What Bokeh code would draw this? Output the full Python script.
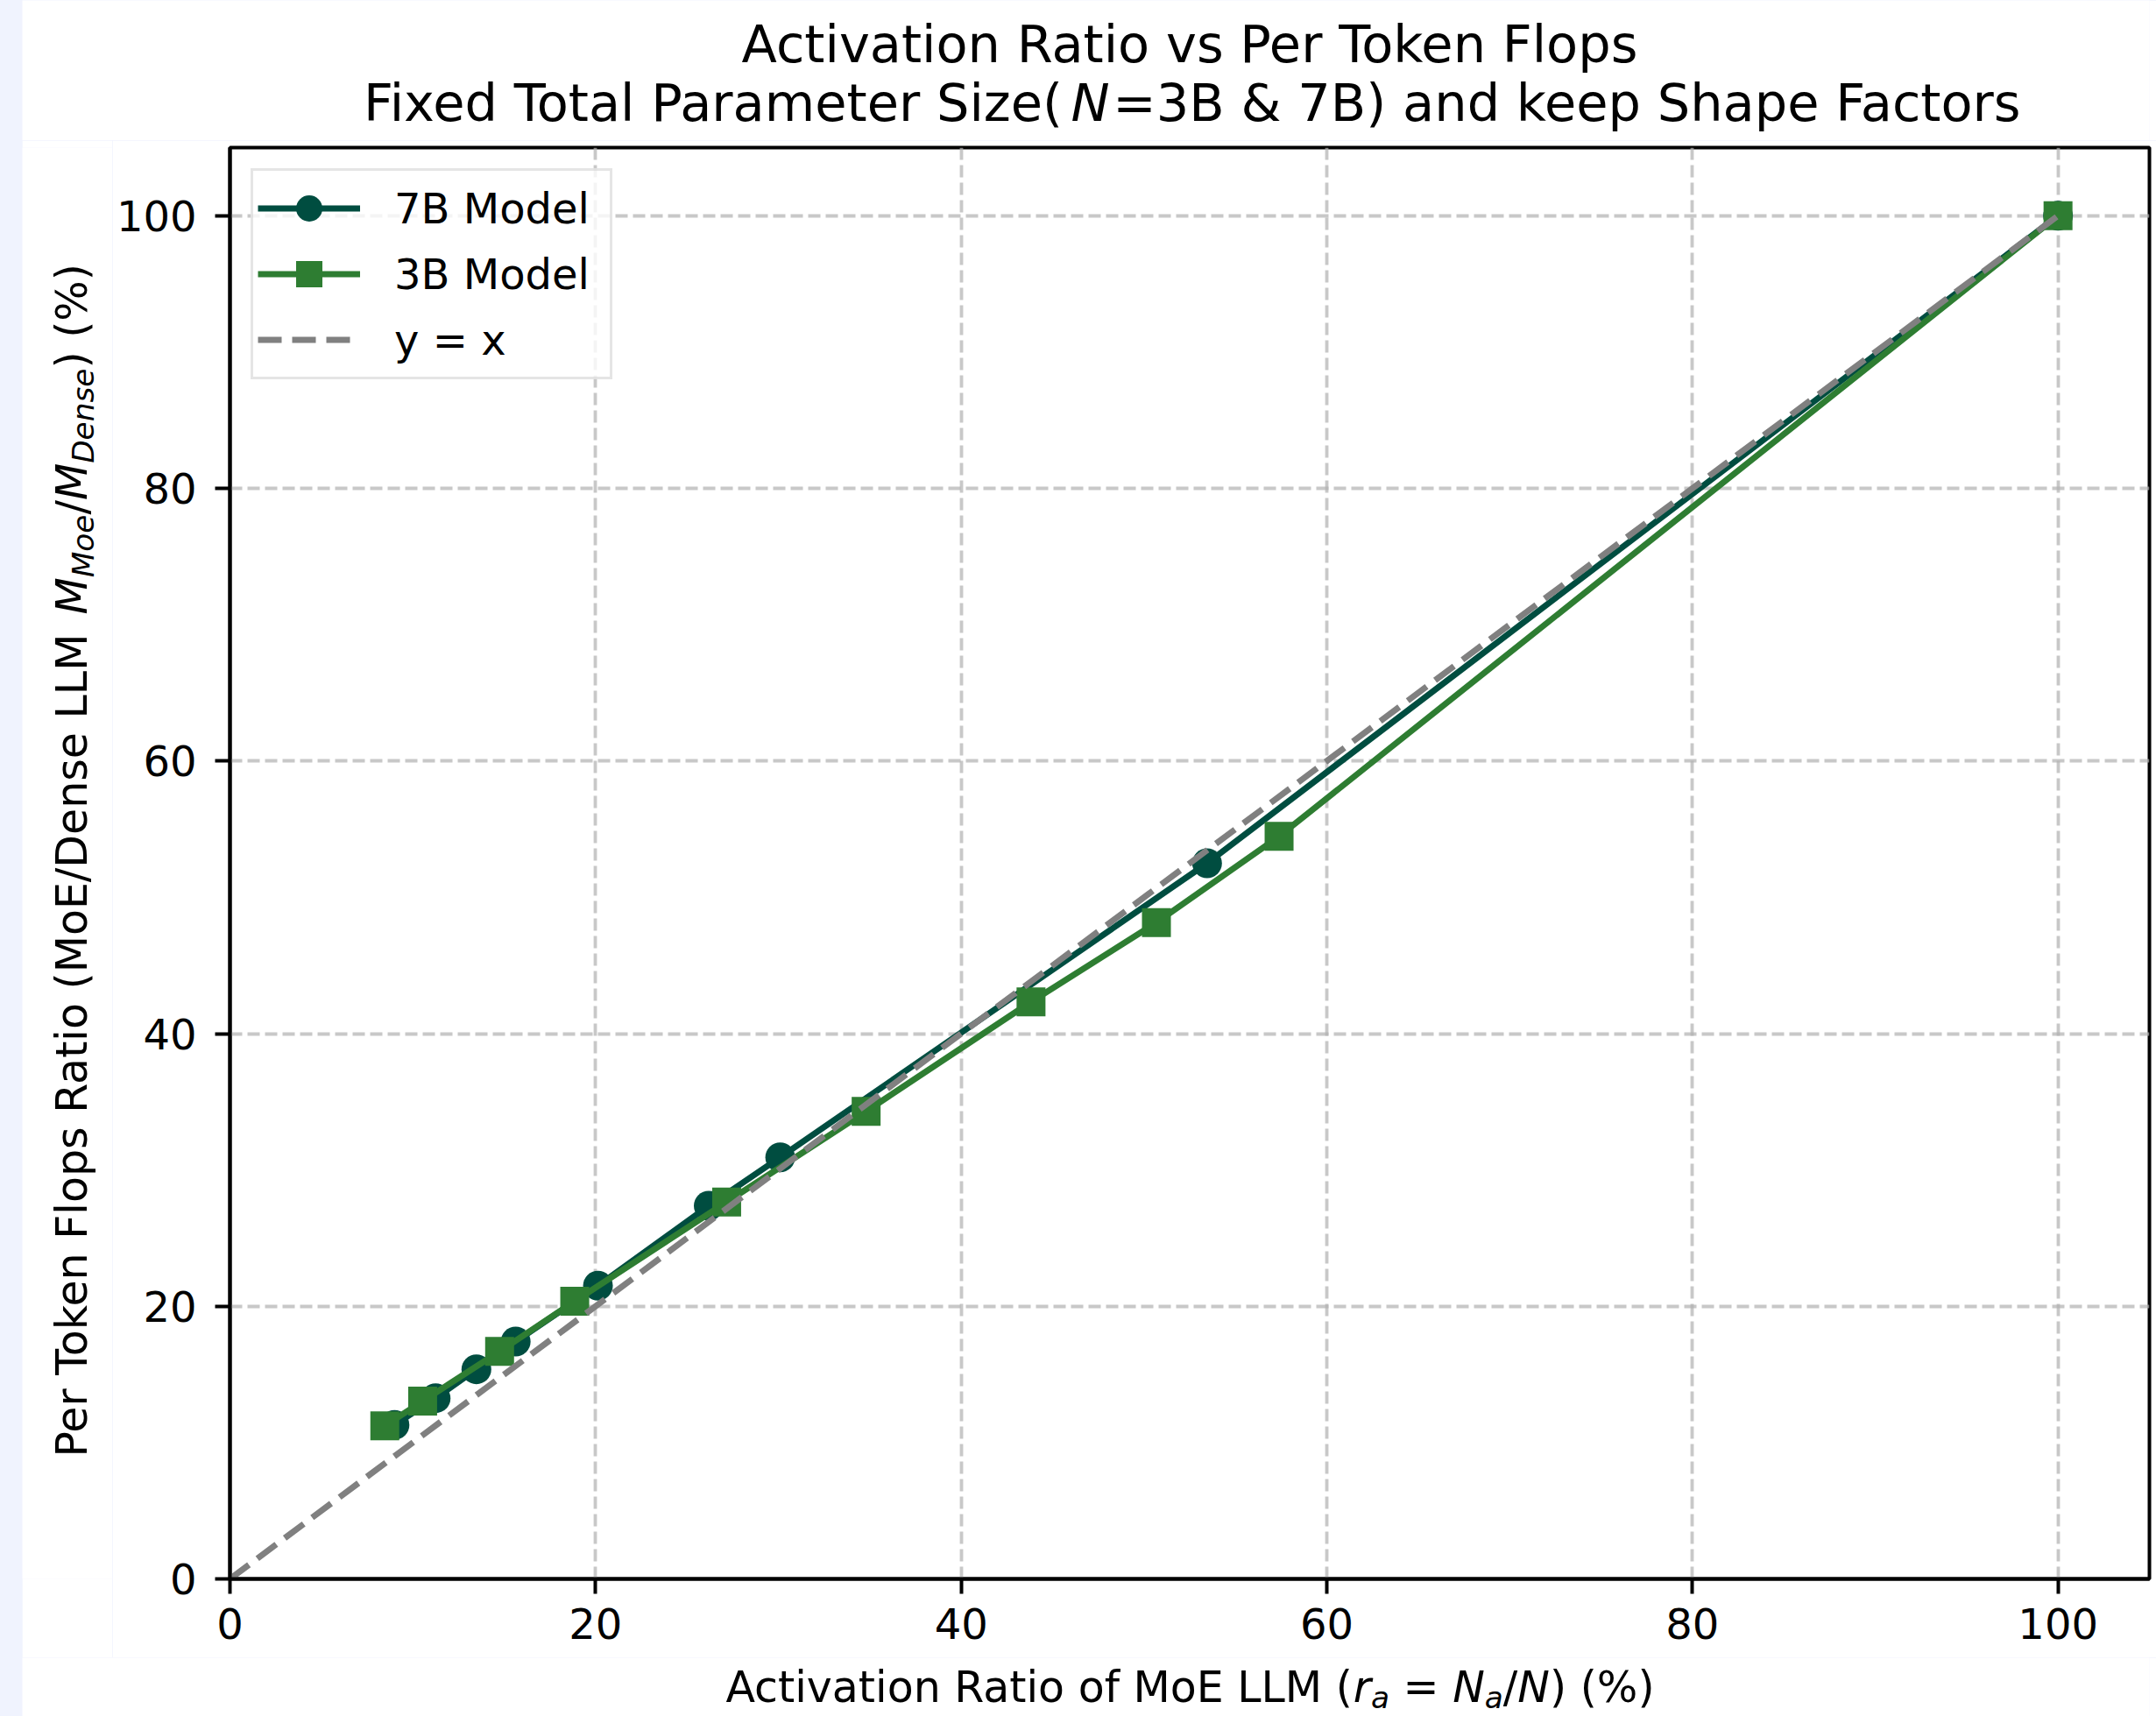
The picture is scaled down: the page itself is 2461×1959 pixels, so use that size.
import math
from bokeh.plotting import figure
from bokeh.models import Range1d, FixedTicker, Label, Legend, LegendItem, Spacer
from bokeh.layouts import row, column
from bokeh.embed import file_html
from bokeh.resources import INLINE

# ---------------- data ----------------
x_7b = [9.0, 11.25, 13.48, 15.63, 20.13, 26.19, 30.1, 53.45, 100.0]
y_7b = [11.3, 13.26, 15.38, 17.41, 21.51, 27.37, 30.93, 52.5, 100.0]
x_3b = [8.47, 10.54, 14.75, 18.86, 27.17, 34.8, 43.82, 50.68, 57.39, 100.0]
y_3b = [11.23, 13.04, 16.69, 20.37, 27.65, 34.3, 42.33, 48.15, 54.47, 100.0]
x_diag = [0, 100]
y_diag = [0, 100]
ticks = [0, 20, 40, 60, 80, 100]
series_labels = ["7B Model", "3B Model", "y = x"]

title_1 = [("Activation Ratio vs Per Token Flops", "normal", False)]
title_2 = [("Fixed Total Parameter Size(", "normal", False),
           ("N", "italic", False),
           ("=3B & 7B) and keep Shape Factors", "normal", False)]
xlabel = [("Activation Ratio of MoE LLM (", "normal", False),
          ("r", "italic", False), ("a", "italic", True),
          (" = ", "normal", False),
          ("N", "italic", False), ("a", "italic", True),
          ("/", "normal", False), ("N", "italic", False),
          (") (%)", "normal", False)]
ylabel = [("Per Token Flops Ratio (MoE/Dense LLM ", "normal", False),
          ("M", "italic", False), ("Moe", "italic", True),
          ("/", "normal", False),
          ("M", "italic", False), ("Dense", "italic", True),
          (") (%)", "normal", False)]

# ---------------- layout constants (page pixels) ----------------
PAGE_W, PAGE_H = 2461, 1959
STRIP = 25
FL, FR, FT, FB = 262, 2453, 168, 1802      # plot frame
HEAD_H = 160                                # title band height
LEFT_W = 103                                # y-label band width
BOT_Y = 1892                                # top of x-label band
XMAX = YMAX = 105
FONT = "DejaVu Sans"
C7 = "#004d40"
C3 = "#2e7d32"
CD = "#808080"
CAPMID = 0.3645   # cap-height centre above the baseline, in em

W = {' ': 651, '%': 1948, '&': 1597, '(': 799, ')': 799, '/': 690, '3': 1303, '7': 1303,
     '=': 1716, 'A': 1401, 'B': 1405, 'D': 1577, 'E': 1294, 'F': 1178, 'L': 1141,
     'M': 1767, 'N': 1532, 'P': 1235, 'R': 1423, 'S': 1300, 'T': 1251, 'a': 1255,
     'c': 1126, 'd': 1300, 'e': 1260, 'f': 721, 'h': 1298, 'i': 569, 'k': 1186,
     'l': 569, 'm': 1995, 'n': 1298, 'o': 1253, 'p': 1300, 'r': 842, 's': 1067,
     't': 803, 'v': 1212, 'x': 1212, 'y': 1212, 'z': 1075}


def tw(s, size):
    return sum(W.get(c, 1200) for c in s) / 2048.0 * size


def layout_pieces(pieces, base):
    out = []
    cur = 0.0
    for (t, st, sub) in pieces:
        size = base * 0.7 if sub else base
        core = t.strip(" ")
        lead = len(t) - len(t.lstrip(" "))
        c0 = cur + tw(" " * lead, size)
        out.append((core, st, sub, size, c0 + tw(core, size) / 2))
        cur += tw(t, size)
    return out, cur


def make_label(x, y, text, size, style, angle=0.0):
    return Label(x=x, y=y, text=text, text_font=FONT, text_font_size=f"{size:.1f}px",
                 text_font_style=style, text_color="black", text_align="center",
                 text_baseline="middle", angle=angle)


def text_fig(x0, y0, w, h, bl, br, bt, bb):
    """A blank band whose frame uses page-pixel coordinates (y grows downward)."""
    f = figure(width=w, height=h,
               x_range=Range1d(x0 + bl, x0 + w - br), y_range=Range1d(y0 + h - bb, y0 + bt),
               output_backend="svg", toolbar_location=None,
               x_axis_type=None, y_axis_type=None,
               min_border_left=bl, min_border_right=br, min_border_top=bt, min_border_bottom=bb)
    f.outline_line_color = None
    f.background_fill_color = "white"
    f.border_fill_color = "white"
    return f


def horizontal_pieces(f, pieces, base, cx, baseline, sub_shift):
    items, total = layout_pieces(pieces, base)
    start = cx - total / 2
    for (t, st, sub, s, c) in items:
        bl = baseline + (sub_shift if sub else 0)
        f.add_layout(make_label(start + c, bl - CAPMID * s, t, s, st))


def vertical_pieces(f, pieces, base, cy, baseline_x, sub_shift):
    items, total = layout_pieces(pieces, base)
    start = cy + total / 2          # bottom end (y grows downward here)
    for (t, st, sub, s, c) in items:
        bl = baseline_x + (sub_shift if sub else 0)
        f.add_layout(make_label(bl - CAPMID * s, start - c, t, s, st, angle=math.pi / 2))


# ---------------- main figure ----------------
main_x0 = STRIP + LEFT_W
p = figure(width=PAGE_W - main_x0, height=BOT_Y - HEAD_H,
           x_range=Range1d(0, XMAX), y_range=Range1d(0, YMAX),
           output_backend="svg", toolbar_location=None,
           min_border_left=FL - main_x0, min_border_right=PAGE_W - FR,
           min_border_top=FT - HEAD_H, min_border_bottom=BOT_Y - FB)
p.background_fill_color = "white"
p.border_fill_color = "white"
p.outline_line_color = "black"
p.outline_line_width = 4

for ax in (p.xaxis, p.yaxis):
    ax.ticker = FixedTicker(ticks=ticks)
    ax.major_label_text_font = FONT
    ax.major_label_text_font_size = "48px"
    ax.major_label_text_color = "black"
    ax.major_tick_out = 17
    ax.major_tick_in = 0
    ax.major_tick_line_width = 4
    ax.major_tick_line_color = "black"
    ax.minor_tick_line_color = None
    ax.axis_line_width = 4
    ax.axis_line_color = "black"
p.xaxis.major_label_standoff = 16
p.yaxis.major_label_standoff = 21

for g in (p.xgrid, p.ygrid):
    g.ticker = FixedTicker(ticks=ticks)
    g.grid_line_color = "#b0b0b0"
    g.grid_line_alpha = 0.7
    g.grid_line_width = 3.8
    g.grid_line_dash = "14 6"

l7 = p.line(x_7b, y_7b, line_color=C7, line_width=7)
s7 = p.scatter(x_7b, y_7b, marker="circle", size=34, fill_color=C7, line_color=None)
l3 = p.line(x_3b, y_3b, line_color=C3, line_width=7)
s3 = p.scatter(x_3b, y_3b, marker="square", size=33, fill_color=C3, line_color=None)
ld = p.line(x_diag, y_diag, line_color=CD, line_width=7, line_dash="27 12")

legend = Legend(items=[LegendItem(label=series_labels[0], renderers=[l7, s7]),
                       LegendItem(label=series_labels[1], renderers=[l3, s3]),
                       LegendItem(label=series_labels[2], renderers=[ld])],
                location="top_left")
legend.margin = 24
legend.padding = 5
legend.spacing = 0
legend.glyph_width = 117
legend.glyph_height = 75
legend.label_height = 75
legend.label_width = 241
legend.label_standoff = 39
legend.label_text_font = FONT
legend.label_text_font_size = "48px"
legend.label_text_color = "black"
legend.label_text_baseline = "middle"
legend.border_line_color = "#cccccc"
legend.border_line_width = 3
legend.background_fill_color = "white"
legend.background_fill_alpha = 0.8
p.add_layout(legend)

# ---------------- text bands (page-pixel coordinates) ----------------
cx = (FL + FR) / 2
cy = (FT + FB) / 2
head = text_fig(STRIP, 0, PAGE_W - STRIP, HEAD_H, 0, PAGE_W - FR, 0, 0)
horizontal_pieces(head, title_1, 59, cx, 72, 0)
horizontal_pieces(head, title_2, 59, cx, 139, 0)

left = text_fig(STRIP, HEAD_H, LEFT_W, BOT_Y - HEAD_H, 0, 0, FT - HEAD_H, BOT_Y - FB)
vertical_pieces(left, ylabel, 49, cy, 100, 7)

bottom = text_fig(STRIP, BOT_Y, PAGE_W - STRIP, PAGE_H - BOT_Y, 0, PAGE_W - FR, 0, 0)
horizontal_pieces(bottom, xlabel, 49, cx, 1944, 6)

body = column(head, row(left, p), bottom)
strip = Spacer(width=STRIP, height=PAGE_H, styles={"background-color": "#f0f3fe"})
layout = row(strip, body, styles={"background-color": "#f0f3fe"})

open("out.html", "w").write(file_html(layout, INLINE))
